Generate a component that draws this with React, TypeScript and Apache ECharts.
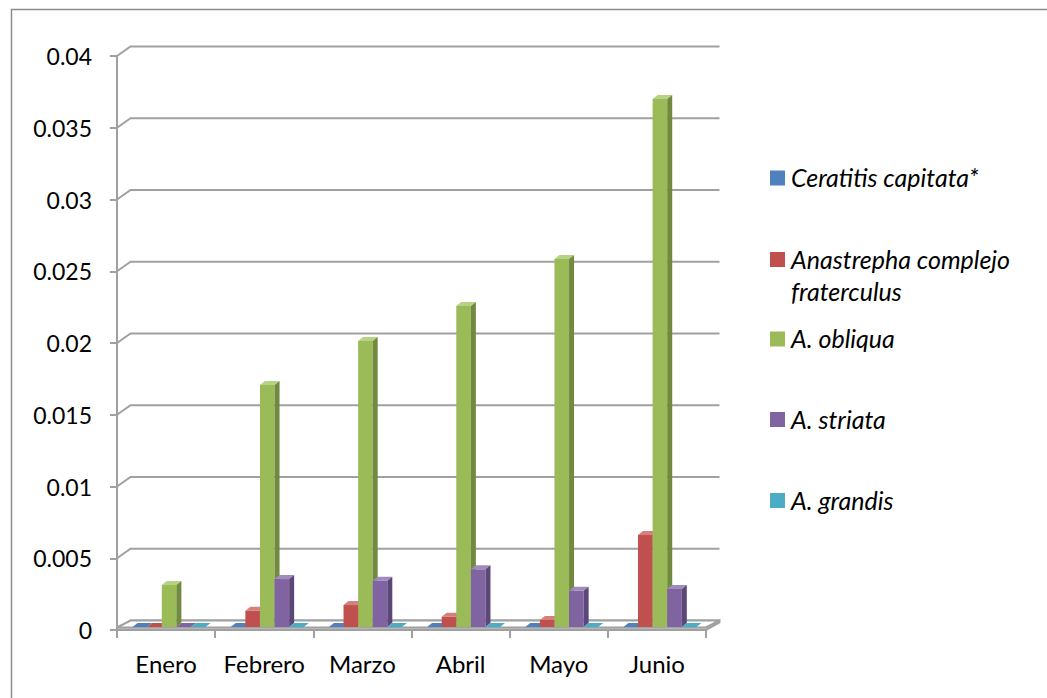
import React, { useEffect, useRef } from "react";
import * as echarts from "echarts";

const months = ["Enero", "Febrero", "Marzo", "Abril", "Mayo", "Junio"];
const seriesNames = [
  "Ceratitis capitata*",
  "Anastrepha complejo\nfraterculus",
  "A. obliqua",
  "A. striata",
  "A. grandis",
];
const ceratitis = [0, 0, 0, 0, 0, 0];
const fraterculus = [0, 0.00114, 0.00153, 0.00072, 0.00049, 0.00641];
const obliqua = [0.00293, 0.01686, 0.01993, 0.02237, 0.02564, 0.0368];
const striata = [0, 0.00334, 0.00323, 0.00402, 0.00253, 0.00265];
const grandis = [0, 0, 0, 0, 0, 0];
const yTicks = [0, 0.005, 0.01, 0.015, 0.02, 0.025, 0.03, 0.035, 0.04];

const seriesValues = [ceratitis, fraterculus, obliqua, striata, grandis];

const palette = [
  { front: "#4F81BD", top: "#7DA2D1", side: "#3A6192" },
  { front: "#C0504D", top: "#D6807E", side: "#8F3B39" },
  { front: "#9BBB59", top: "#B8D283", side: "#718A3F" },
  { front: "#8064A2", top: "#A18BBE", side: "#5C4878" },
  { front: "#4BACC6", top: "#7CC4D8", side: "#348097" },
];

const FONT = "Lato, 'Open Sans', sans-serif";
const GRAY = "#a0a0a0";
const WALL_DX = 13.5;
const WALL_DY = 9.5;
const BAR_SHIFT_X = 3;
const BAR_SHIFT_Y = 3;
const BAR_DX = 5;
const BAR_DY = 4;
const BAR_FRAC = 0.1487;

export default function App() {
  const ref = useRef<HTMLDivElement>(null);
  useEffect(() => {
    if (!ref.current) return;
    const chart = echarts.init(ref.current, undefined, { renderer: "svg" });

    const barSeries = seriesValues.map((vals, s) => ({
      type: "custom",
      name: seriesNames[s].replace("\n", " "),
      clip: false,
      z: 5,
      encode: { x: 0, y: 1 },
      data: months.map((_, i) => [i, vals[i]]),
      renderItem: (params: any, api: any) => {
        const idx = api.value(0);
        const val = api.value(1);
        const p = api.coord([idx, val]);
        const p0 = api.coord([idx, 0]);
        const C = api.size([1, 0])[0];
        const w = C * BAR_FRAC;
        const x0 = p[0] + BAR_SHIFT_X + (s - 2.5) * w;
        const yTop = p[1] - BAR_SHIFT_Y;
        const yBase = p0[1] - BAR_SHIFT_Y;
        const c = palette[s];
        if (val <= 0) {
          return {
            type: "polygon",
            shape: {
              points: [
                [x0, yBase],
                [x0 + w, yBase],
                [x0 + w + BAR_DX, yBase - BAR_DY],
                [x0 + BAR_DX, yBase - BAR_DY],
              ],
            },
            style: { fill: c.front },
          };
        }
        return {
          type: "group",
          children: [
            {
              type: "rect",
              shape: { x: x0, y: yTop, width: w, height: yBase - yTop },
              style: { fill: c.front },
            },
            {
              type: "polygon",
              shape: {
                points: [
                  [x0, yTop],
                  [x0 + w, yTop],
                  [x0 + w + BAR_DX, yTop - BAR_DY],
                  [x0 + BAR_DX, yTop - BAR_DY],
                ],
              },
              style: { fill: c.top },
            },
            {
              type: "polygon",
              shape: {
                points: [
                  [x0 + w, yTop],
                  [x0 + w + BAR_DX, yTop - BAR_DY],
                  [x0 + w + BAR_DX, yBase - BAR_DY],
                  [x0 + w, yBase],
                ],
              },
              style: { fill: c.side },
            },
          ],
        };
      },
    }));

    const wallSeries = {
      type: "custom",
      name: "wall",
      clip: false,
      z: 1,
      silent: true,
      encode: { x: 0, y: 1 },
      data: yTicks.map((v) => [0, v]),
      renderItem: (params: any, api: any) => {
        const cs = params.coordSys;
        const y = api.coord([0, api.value(1)])[1];
        return {
          type: "polyline",
          shape: {
            points: [
              [cs.x, y],
              [cs.x + WALL_DX, y - WALL_DY],
              [cs.x + cs.width + WALL_DX, y - WALL_DY],
            ],
          },
          style: { stroke: GRAY, lineWidth: 2, fill: "none" },
        };
      },
    };

    const floorSeries = {
      type: "custom",
      name: "floor",
      clip: false,
      z: 3,
      silent: true,
      encode: { x: 0, y: 1 },
      data: [[0, 0]],
      renderItem: (params: any, api: any) => {
        const cs = params.coordSys;
        const yb = api.coord([0, 0])[1];
        const xl = cs.x;
        const xr = cs.x + cs.width;
        const yt = yb - 2.5;
        return {
          type: "group",
          children: [
            {
              type: "polygon",
              shape: {
                points: [
                  [xl, yt],
                  [xr, yt],
                  [xr + WALL_DX, yb - WALL_DY],
                  [xr + WALL_DX, yb - WALL_DY + 2],
                  [xr, yb],
                  [xl, yb],
                ],
              },
              style: { fill: "#ffffff", stroke: GRAY, lineWidth: 2 },
            },
            {
              type: "polygon",
              shape: {
                points: [
                  [xl, yt],
                  [xr, yt],
                  [xr + WALL_DX, yb - WALL_DY],
                  [xl + WALL_DX, yb - WALL_DY],
                ],
              },
              style: { fill: "#ffffff", stroke: GRAY, lineWidth: 2 },
            },
          ],
        };
      },
    };

    const legendCenters = [178, 259.5, 339, 419.5, 500.5];
    const legendGraphics: any[] = [];
    seriesNames.forEach((n, i) => {
      const cy = legendCenters[i];
      legendGraphics.push({
        type: "rect",
        left: 770,
        top: cy - 7.5,
        shape: { width: 15, height: 15 },
        style: { fill: palette[i].front },
      });
      legendGraphics.push({
        type: "text",
        left: 791,
        top: cy - 17,
        style: {
          text: n,
          font: `italic 25px ${FONT}`,
          fill: "#000",
          lineHeight: 32,
        },
      });
    });

    chart.setOption({
      animation: false,
      textStyle: { fontFamily: FONT },
      grid: { left: 117, right: 341, top: 56, bottom: 68, containLabel: false },
      xAxis: {
        type: "category",
        data: months,
        axisLine: { show: true, lineStyle: { color: GRAY, width: 2 } },
        axisTick: { show: true, length: 8, lineStyle: { color: GRAY, width: 2 } },
        axisLabel: {
          color: "#000",
          fontSize: 24,
          fontFamily: FONT,
          margin: 21,
          interval: 0,
          hideOverlap: false,
        },
        splitLine: { show: false },
      },
      yAxis: {
        type: "value",
        min: 0,
        max: 0.04,
        interval: 0.005,
        axisLine: { show: true, lineStyle: { color: GRAY, width: 2 } },
        axisTick: { show: true, length: 7, lineStyle: { color: GRAY, width: 2 } },
        axisLabel: { color: "#000", fontSize: 23, fontFamily: FONT, margin: 25 },
        splitLine: { show: false },
      },
      graphic: [
        {
          type: "rect",
          left: 9,
          top: 7,
          z: -10,
          shape: { width: 1037, height: 700 },
          style: { fill: "none", stroke: "#8c8c8c", lineWidth: 1.5 },
        },
        ...legendGraphics,
      ],
      series: [wallSeries, floorSeries, ...barSeries],
    });

    return () => chart.dispose();
  }, []);

  return (
    <div
      ref={ref}
      style={{ position: "fixed", left: 0, top: 0, width: 1047, height: 698, background: "#fff" }}
    />
  );
}
